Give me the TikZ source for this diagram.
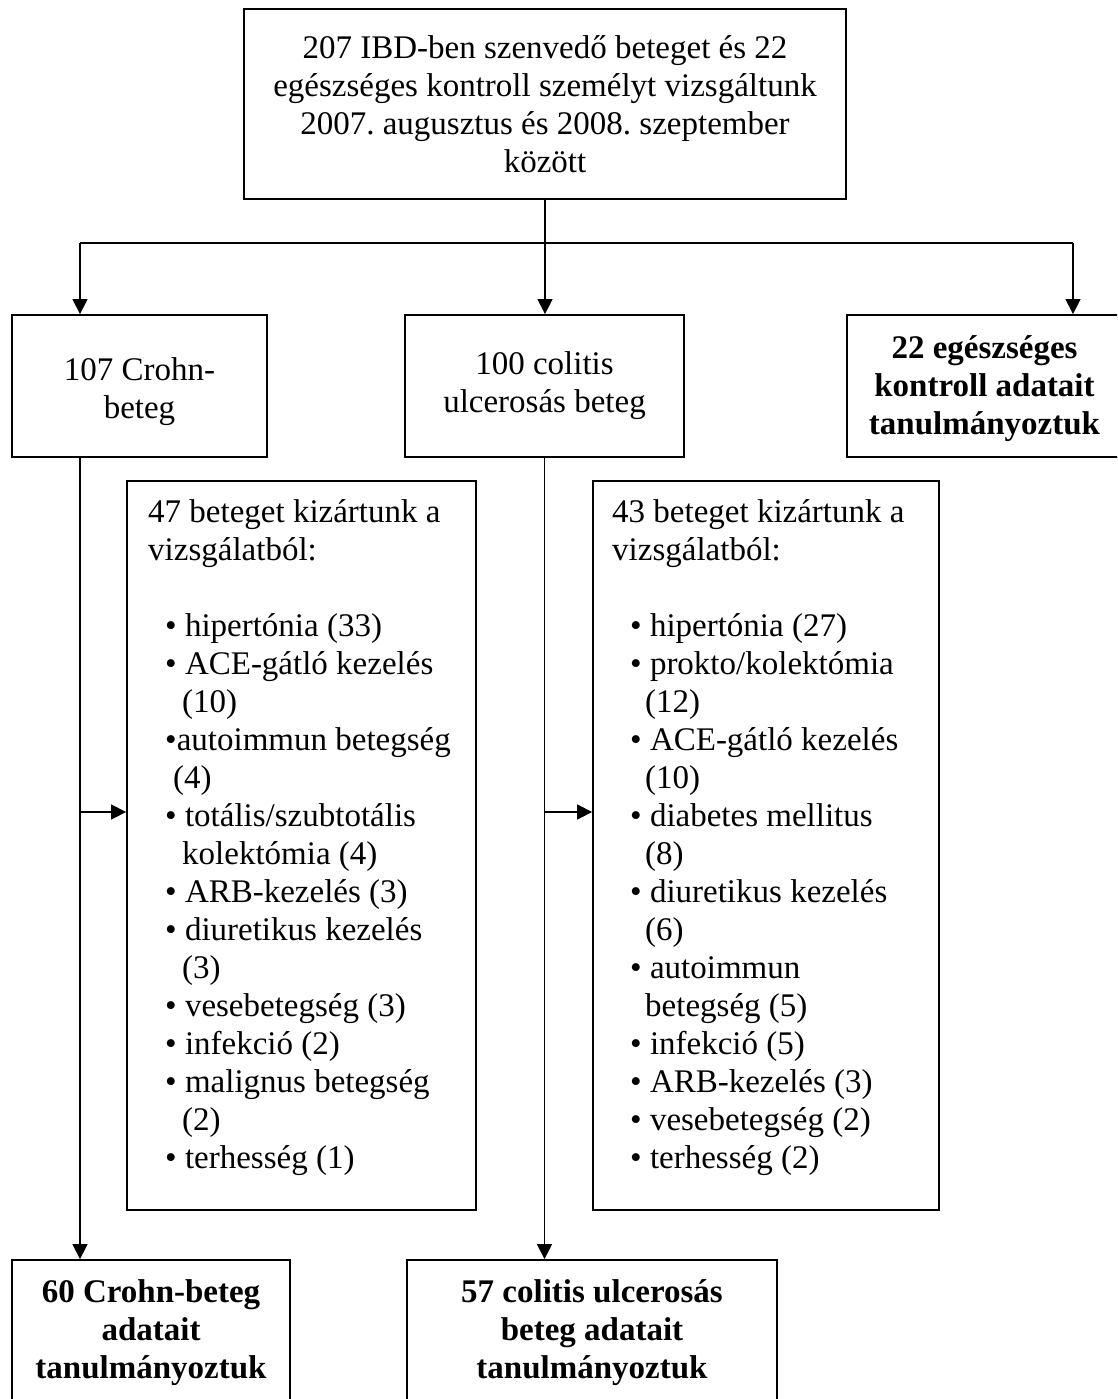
\documentclass[tikz,border=0pt]{standalone}
\usepackage{fontspec}
\setmainfont{Liberation Serif}
\usetikzlibrary{arrows.meta,calc}
\frenchspacing
\tikzset{
  box/.style={draw, line width=1.8pt, inner sep=0pt},
  tx/.style={inner sep=0pt, font=\fontsize{33}{38}\selectfont},
  tl/.style={tx, anchor=base west},
  tc/.style={tx, anchor=base},
  bc/.style={inner sep=0pt, anchor=base, font=\fontsize{33}{38}\selectfont\bfseries},
  con/.style={line width=1.4pt},
  arr/.style={con, -{Triangle[length=15pt,width=15pt]}},
}
\begin{document}
\begin{tikzpicture}[x=1pt,y=-1pt]
\useasboundingbox (0,0) rectangle (1117,1399);
\clip (0,0) rectangle (1117,1399);
% boxes
\node[box, minimum width=602pt, minimum height=190pt] (top) at (545,104) {};
\node[box, minimum width=255pt, minimum height=142pt] (crohn) at (139.5,386) {};
\node[box, minimum width=279pt, minimum height=142pt] (colitis) at (544.5,386) {};
\node[box, minimum width=275pt, minimum height=142pt] (control) at (984.5,386) {};
\node[box, minimum width=349pt, minimum height=729pt] (exL) at (301.5,845.5) {};
\node[box, minimum width=346pt, minimum height=729pt] (exR) at (766,845.5) {};
\node[box, minimum width=278pt, minimum height=160pt] (resL) at (151,1340) {};
\node[box, minimum width=370pt, minimum height=160pt] (resR) at (592,1340) {};
% connectors
\coordinate (jL) at (80,243);
\coordinate (jR) at (1073,243);
\coordinate (bL) at (80,812);
\coordinate (bR) at (545,812);
\draw[con] (top.south) -- (top.south |- jL);
\draw[line width=2pt] (jL) -- (jR);
\draw[arr] (jL) -- (jL |- crohn.north);
\draw[arr] (jR) -- (jR |- control.north);
\draw[arr] (top.south |- jL) -- (top.south |- colitis.north);
\draw[arr] (jL |- crohn.south) -- (jL |- resL.north);
\draw[arr] (bL) -- (bL -| exL.west);
\draw[arr] (colitis.south) -- (colitis.south |- resR.north);
\draw[arr] (bR) -- (bR -| exR.west);
% top text
\node[tc] (t1) at (545,59) {207 IBD-ben szenvedő beteget és 22};
\node[tc] (t2) at (545,97) {egészséges kontroll személyt vizsgáltunk};
\node[tc] (t3) at (545,135) {2007. augusztus és 2008. szeptember};
\node[tc] (t4) at (545,173) {között};
% second row
\node[tc] (c1) at (139.5,380) {107 Crohn-};
\node[tc] (c2) at (139.5,418) {beteg};
\node[tc] (u1) at (544.5,374) {100 colitis};
\node[tc] (u2) at (544.5,412) {ulcerosás beteg};
\node[bc] (k1) at (984.5,358) {22 egészséges};
\node[bc] (k2) at (984.5,396) {kontroll adatait};
\node[bc] (k3) at (984.5,434) {tanulmányoztuk};
% left exclusion list
\node[tl] (a1) at (148,522) {47 beteget kizártunk a};
\node[tl] (a2) at (148,560) {vizsgálatból:};
\node[tl] (a3) at (165,636) {• hipertónia (33)};
\node[tl] (a4) at (165,674) {• ACE-gátló kezelés};
\node[tl] (a5) at (182,712) {(10)};
\node[tl] (a6) at (165,750) {•autoimmun betegség};
\node[tl] (a7) at (173,788) {(4)};
\node[tl] (a8) at (165,826) {• totális/szubtotális};
\node[tl] (a9) at (182,864) {kolektómia (4)};
\node[tl] (a10) at (165,902) {• ARB-kezelés (3)};
\node[tl] (a11) at (165,940) {• diuretikus kezelés};
\node[tl] (a12) at (182,978) {(3)};
\node[tl] (a13) at (165,1016) {• vesebetegség (3)};
\node[tl] (a14) at (165,1054) {• infekció (2)};
\node[tl] (a15) at (165,1092) {• malignus betegség};
\node[tl] (a16) at (182,1130) {(2)};
\node[tl] (a17) at (165,1168) {• terhesség (1)};
% right exclusion list
\node[tl] (b1) at (612,522) {43 beteget kizártunk a};
\node[tl] (b2) at (612,560) {vizsgálatból:};
\node[tl] (b3) at (630,636) {• hipertónia (27)};
\node[tl] (b4) at (630,674) {• prokto/kolektómia};
\node[tl] (b5) at (645,712) {(12)};
\node[tl] (b6) at (630,750) {• ACE-gátló kezelés};
\node[tl] (b7) at (645,788) {(10)};
\node[tl] (b8) at (630,826) {• diabetes mellitus};
\node[tl] (b9) at (645,864) {(8)};
\node[tl] (b10) at (630,902) {• diuretikus kezelés};
\node[tl] (b11) at (645,940) {(6)};
\node[tl] (b12) at (630,978) {• autoimmun};
\node[tl] (b13) at (645,1016) {betegség (5)};
\node[tl] (b14) at (630,1054) {• infekció (5)};
\node[tl] (b15) at (630,1092) {• ARB-kezelés (3)};
\node[tl] (b16) at (630,1130) {• vesebetegség (2)};
\node[tl] (b17) at (630,1168) {• terhesség (2)};
% result boxes
\node[bc] (r1) at (151,1302) {60 Crohn-beteg};
\node[bc] (r2) at (151,1340) {adatait};
\node[bc] (r3) at (151,1378) {tanulmányoztuk};
\node[bc] (s1) at (592,1302) {57 colitis ulcerosás};
\node[bc] (s2) at (592,1340) {beteg adatait};
\node[bc] (s3) at (592,1378) {tanulmányoztuk};
\end{tikzpicture}
\end{document}
